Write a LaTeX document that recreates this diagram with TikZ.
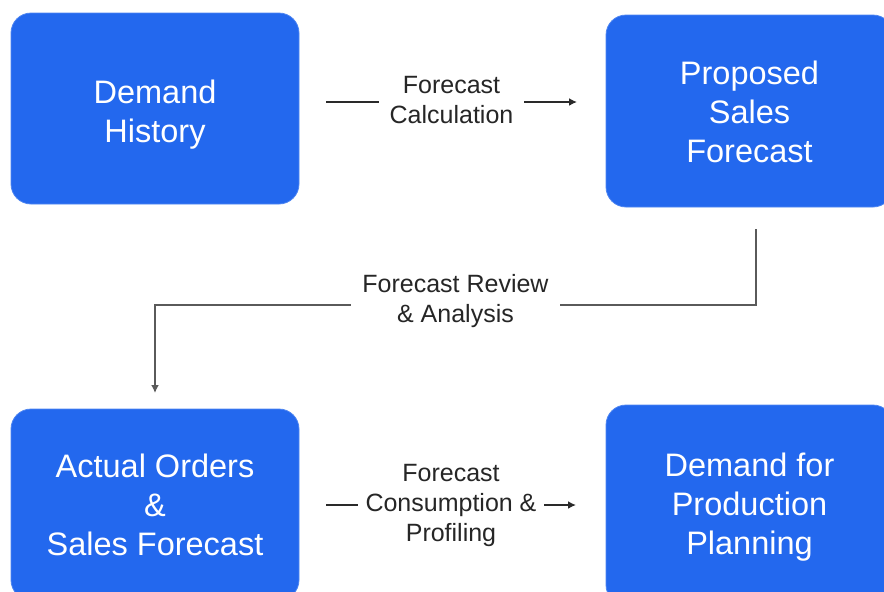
\documentclass[tikz,border=0pt]{standalone}
\usepackage{fontspec}
\setmainfont{Liberation Sans}
\usetikzlibrary{arrows.meta}
\definecolor{boxblue}{HTML}{2368EE}
\definecolor{linegray}{HTML}{2A2A2A}
\definecolor{midgray}{HTML}{5A5A5A}
\tikzset{
  flowbox/.style={fill=boxblue, draw=boxblue!80!white, line width=0.8pt, rounded corners=20pt, inner sep=0pt},
  boxtext/.style={text=white, align=center, inner sep=0pt, font=\fontsize{32.5}{39}\selectfont},
  flowlabel/.style={fill=white, text=black!85, align=center, inner xsep=11pt, inner ysep=3pt, font=\fontsize{25}{30}\selectfont},
  conn/.style={draw=linegray, line width=1.8pt, -{Latex[length=8pt,width=8pt]}},
}
\begin{document}
\begin{tikzpicture}[x=1pt,y=-1pt]
  \useasboundingbox (0,0) rectangle (884,592);
  \clip (0,0) rectangle (884,592);
  % boxes
  \node[flowbox, minimum width=288pt, minimum height=191pt] (dh) at (155,108.5) {};
  \node[flowbox, minimum width=287pt, minimum height=192pt] (psf) at (749.5,111) {};
  \node[flowbox, minimum width=288pt, minimum height=191pt] (ao) at (155,504.5) {};
  \node[flowbox, minimum width=287pt, minimum height=200pt] (dp) at (749.5,505) {};
  % box texts
  \node[boxtext] (dhT) at (155,114.5) {Demand\\History};
  \node[boxtext] (psfT) at (749.5,112) {Proposed\\Sales\\Forecast};
  \node[boxtext] (aoT) at (155,505) {Actual Orders\\\&\\Sales Forecast};
  \node[boxtext] (dpT) at (749.5,507) {Demand for\\Production\\Planning};
  % connector end points
  \coordinate (a1) at (326,102);
  \coordinate (a2) at (577,102);
  \coordinate (m1) at (756,229);
  \coordinate (m2) at (756,305);
  \coordinate (m3) at (155,305);
  \coordinate (m4) at (155,393);
  \coordinate (b1) at (326,505);
  \coordinate (b2) at (576,505);
  % connectors
  \draw[conn] (a1) -- node[flowlabel, yshift=2pt] (lcalc) {Forecast\\Calculation} (a2);
  \draw[conn, draw=midgray] (m1) -- (m2) -- node[flowlabel, yshift=4pt] (lrev) {Forecast Review\\\& Analysis} (m3) -- (m4);
  \draw[conn] (b1) -- node[flowlabel, inner xsep=8pt] (lcons) {Forecast\\Consumption \&\\Profiling} (b2);
\end{tikzpicture}
\end{document}
